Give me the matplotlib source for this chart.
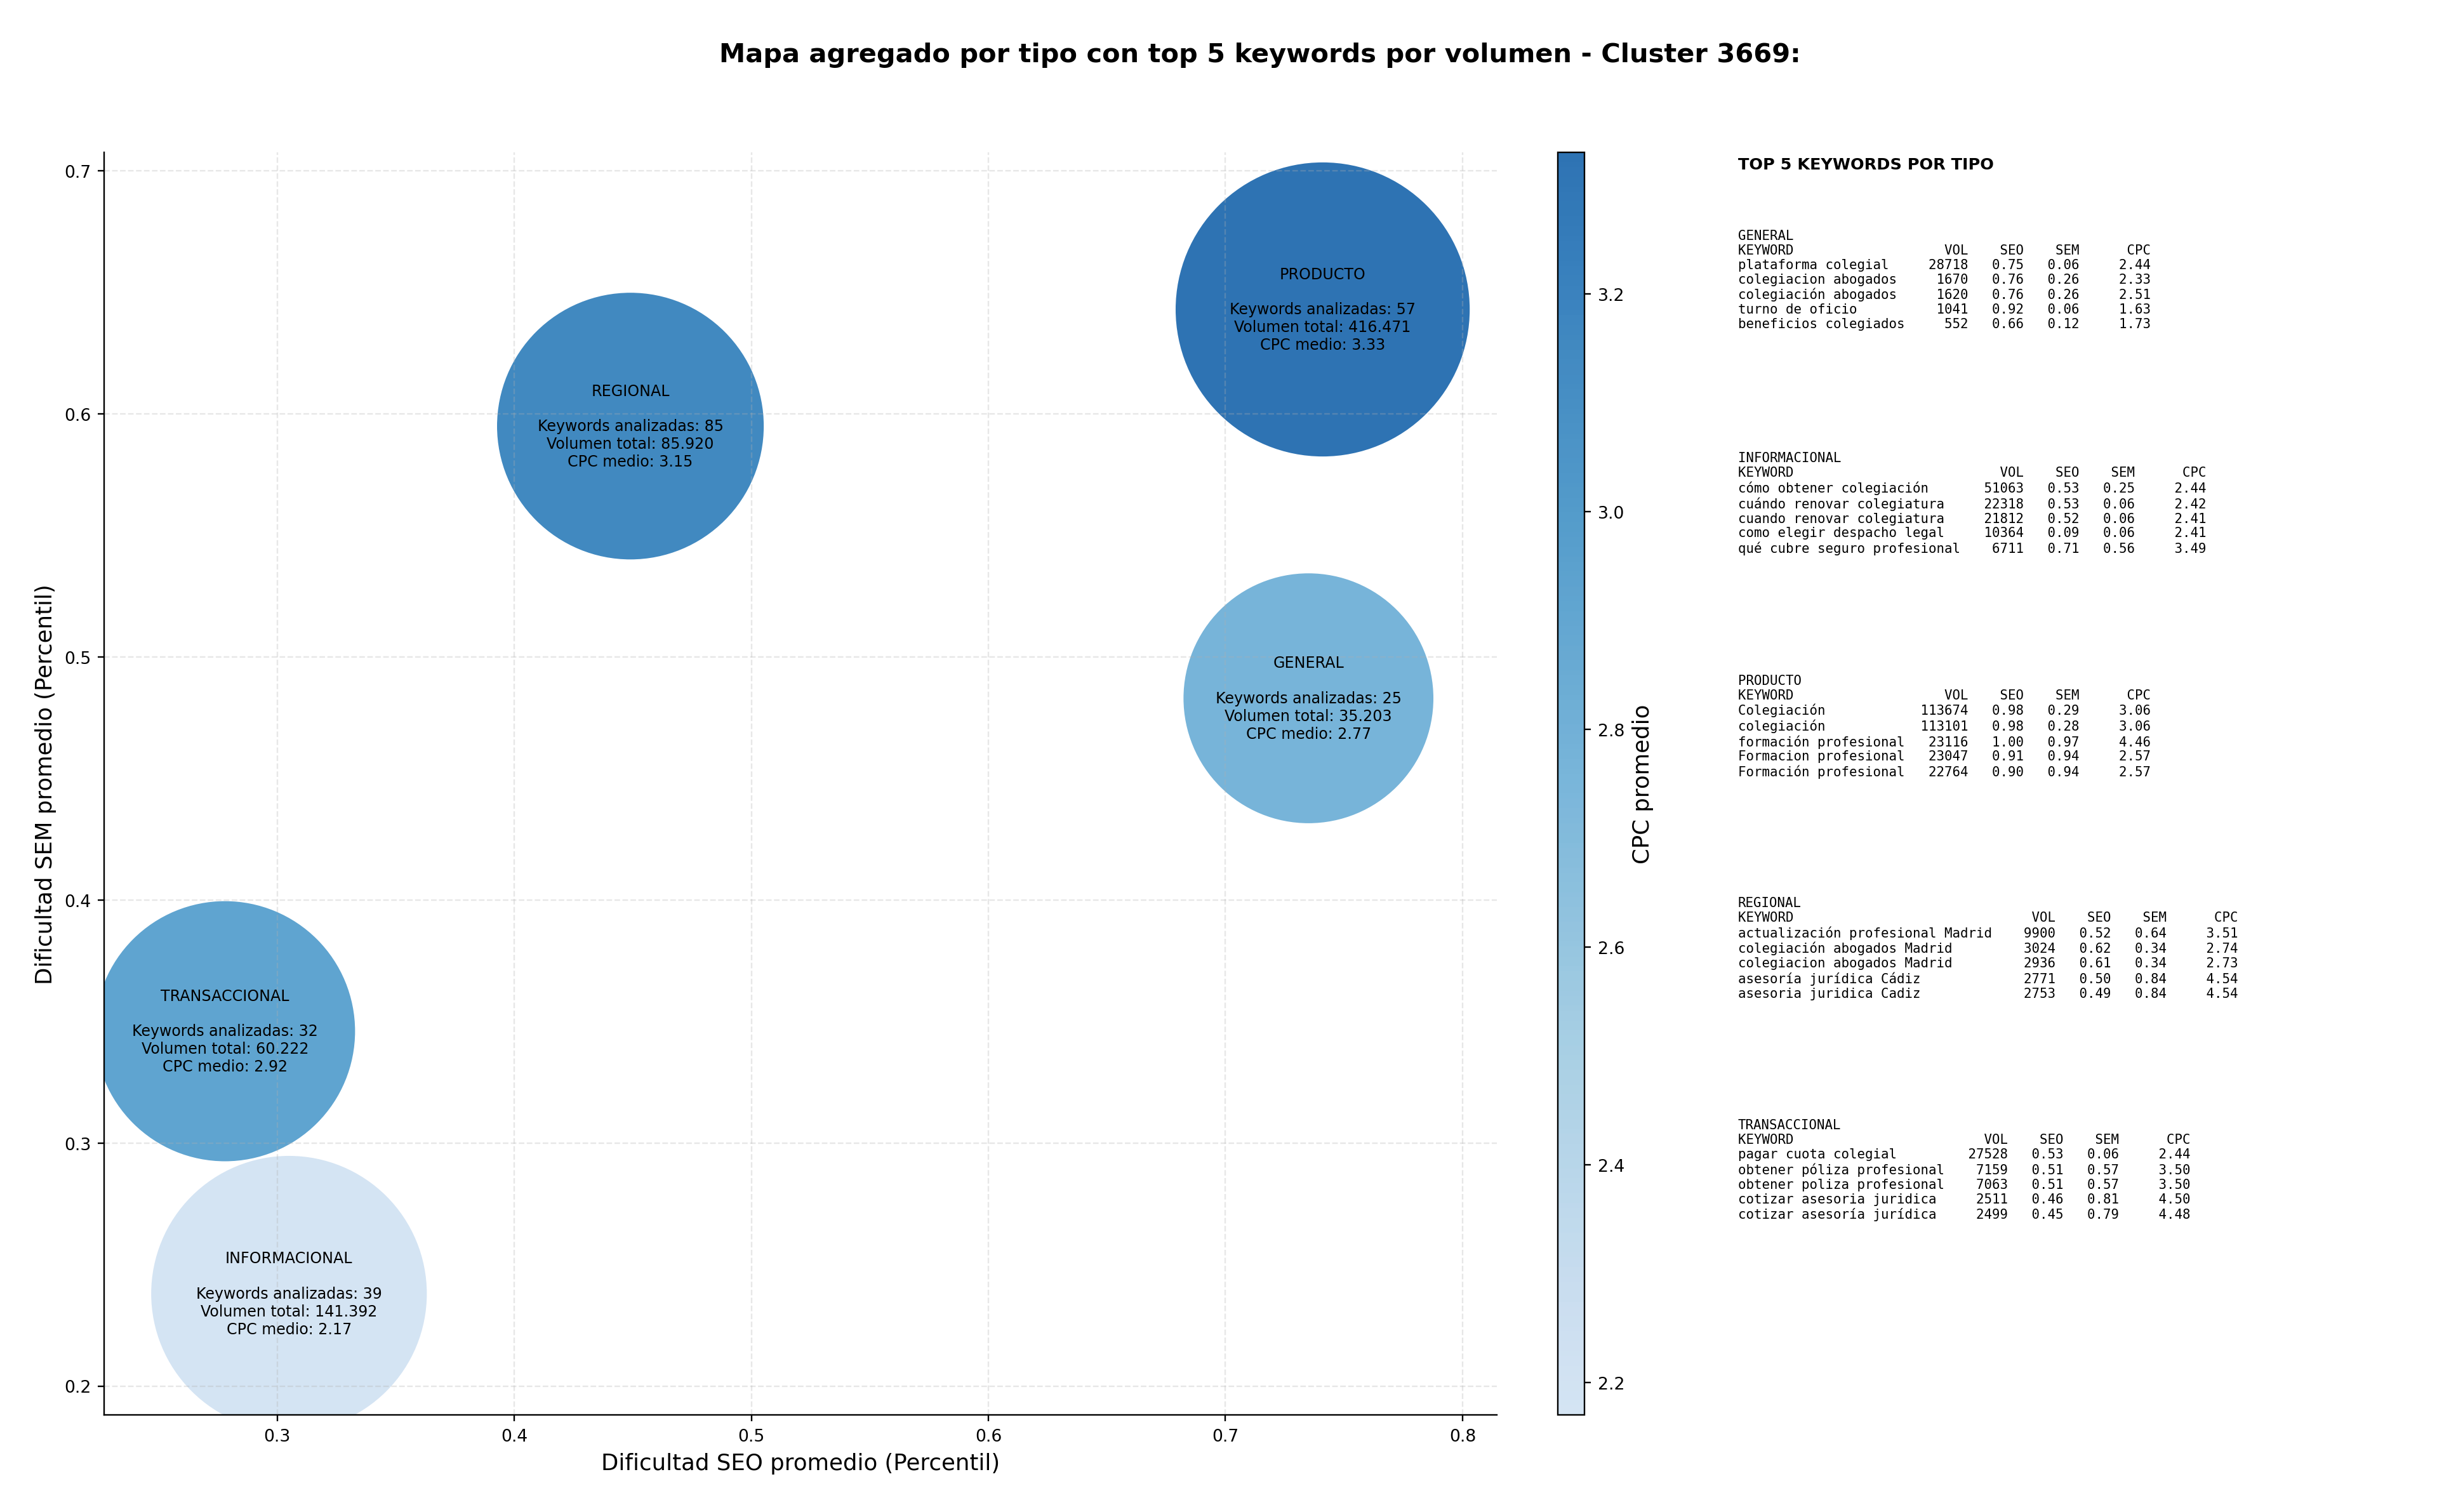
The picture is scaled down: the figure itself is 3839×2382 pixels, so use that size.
import matplotlib
matplotlib.use('Agg')
import matplotlib.pyplot as plt
import numpy as np
from matplotlib.colors import LinearSegmentedColormap

# datos agregados por tipo
tipos = ['GENERAL', 'INFORMACIONAL', 'PRODUCTO', 'REGIONAL', 'TRANSACCIONAL']
seo_medio = [0.735, 0.305, 0.741, 0.449, 0.278]
sem_medio = [0.483, 0.238, 0.643, 0.595, 0.346]
n_keywords = [25, 39, 57, 85, 32]
volumen_total = [35203, 141392, 416471, 85920, 60222]
cpc_medio = [2.77, 2.17, 3.33, 3.15, 2.92]

# top 5 keywords por tipo: (keyword, vol, seo, sem, cpc)
top_general = [
    ('plataforma colegial', 28718, 0.75, 0.06, 2.44),
    ('colegiacion abogados', 1670, 0.76, 0.26, 2.33),
    ('colegiación abogados', 1620, 0.76, 0.26, 2.51),
    ('turno de oficio', 1041, 0.92, 0.06, 1.63),
    ('beneficios colegiados', 552, 0.66, 0.12, 1.73),
]
top_informacional = [
    ('cómo obtener colegiación', 51063, 0.53, 0.25, 2.44),
    ('cuándo renovar colegiatura', 22318, 0.53, 0.06, 2.42),
    ('cuando renovar colegiatura', 21812, 0.52, 0.06, 2.41),
    ('como elegir despacho legal', 10364, 0.09, 0.06, 2.41),
    ('qué cubre seguro profesional', 6711, 0.71, 0.56, 3.49),
]
top_producto = [
    ('Colegiación', 113674, 0.98, 0.29, 3.06),
    ('colegiación', 113101, 0.98, 0.28, 3.06),
    ('formación profesional', 23116, 1.00, 0.97, 4.46),
    ('Formacion profesional', 23047, 0.91, 0.94, 2.57),
    ('Formación profesional', 22764, 0.90, 0.94, 2.57),
]
top_regional = [
    ('actualización profesional Madrid', 9900, 0.52, 0.64, 3.51),
    ('colegiación abogados Madrid', 3024, 0.62, 0.34, 2.74),
    ('colegiacion abogados Madrid', 2936, 0.61, 0.34, 2.73),
    ('asesoría jurídica Cádiz', 2771, 0.50, 0.84, 4.54),
    ('asesoria juridica Cadiz', 2753, 0.49, 0.84, 4.54),
]
top_transaccional = [
    ('pagar cuota colegial', 27528, 0.53, 0.06, 2.44),
    ('obtener póliza profesional', 7159, 0.51, 0.57, 3.50),
    ('obtener poliza profesional', 7063, 0.51, 0.57, 3.50),
    ('cotizar asesoria juridica', 2511, 0.46, 0.81, 4.50),
    ('cotizar asesoría jurídica', 2499, 0.45, 0.79, 4.48),
]
tops = [top_general, top_informacional, top_producto, top_regional, top_transaccional]


def miles(v):
    return f'{v:,}'.replace(',', '.')


cmap = LinearSegmentedColormap.from_list('blues_mid', plt.cm.Blues(np.linspace(0.2, 0.8, 256)))

fig = plt.figure(figsize=(18, 11.17), dpi=213.33)
ax = fig.add_axes([0.0427, 0.064, 0.5714, 0.835])
cax = fig.add_axes([0.639, 0.064, 0.011, 0.835])

# tamaño de burbuja en escala logaritmica del volumen
sizes = 2750 * (np.log(np.array(volumen_total)) - 4.05)

sc = ax.scatter(seo_medio, sem_medio, s=sizes, c=cpc_medio, cmap=cmap,
                alpha=0.9, edgecolors='none')

for i in range(len(tipos)):
    txt = (f'{tipos[i]}\n\nKeywords analizadas: {n_keywords[i]}\n'
           f'Volumen total: {miles(volumen_total[i])}\nCPC medio: {cpc_medio[i]:.2f}')
    ax.text(seo_medio[i], sem_medio[i], txt, ha='center', va='center',
            fontsize=8, multialignment='center')

ax.set_xlim(0.227, 0.8145)
ax.set_ylim(0.188, 0.7077)
ax.set_xlabel('Dificultad SEO promedio (Percentil)', fontsize=12)
ax.set_ylabel('Dificultad SEM promedio (Percentil)', fontsize=12)
ax.tick_params(labelsize=9)
ax.grid(True, linestyle='--', alpha=0.3)
ax.spines['top'].set_visible(False)
ax.spines['right'].set_visible(False)

cb = fig.colorbar(sc, cax=cax)
cb.set_label('CPC promedio', fontsize=12)
cb.ax.tick_params(labelsize=9)

fig.suptitle('Mapa agregado por tipo con top 5 keywords por volumen - Cluster 3669:',
             fontsize=14, fontweight='bold', x=0.517, y=0.972)

# panel de texto con el top 5 de cada tipo
fig.text(0.713, 0.896, 'TOP 5 KEYWORDS POR TIPO', fontsize=8.6, fontweight='bold',
         va='top', ha='left')
for i in range(len(tipos)):
    w = max(len(r[0]) for r in tops[i])
    lines = [tipos[i], f'{"KEYWORD":<{w}}{"VOL":>8}{"SEO":>7}{"SEM":>7}{"CPC":>9}']
    for kw, vol, seo, sem, cpc in tops[i]:
        lines.append(f'{kw:<{w}}{vol:>8}{seo:>7.2f}{sem:>7.2f}{cpc:>9.2f}')
    fig.text(0.713, 0.848 - i * 0.147, '\n'.join(lines), fontsize=7,
             family='DejaVu Sans Mono', va='top', ha='left', linespacing=1.18)

fig.savefig('out.png', dpi=213.33)
